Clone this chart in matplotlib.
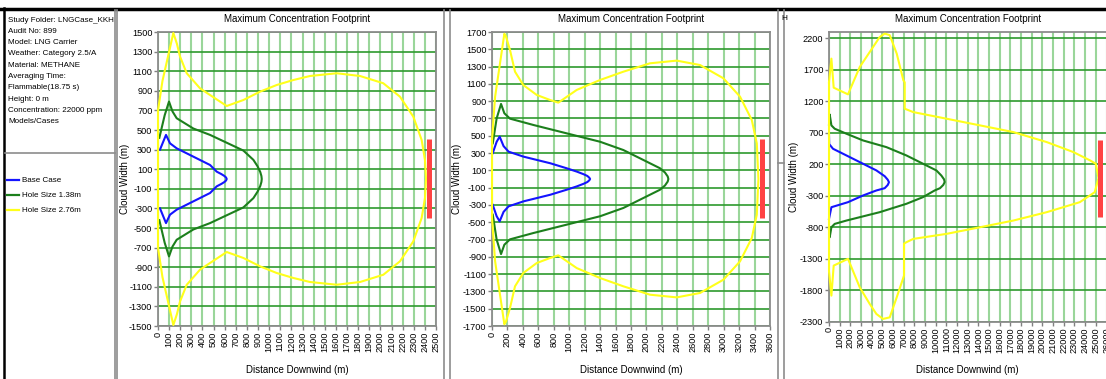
import numpy as np
import matplotlib
matplotlib.use('Agg')
import matplotlib.pyplot as plt
from matplotlib.lines import Line2D

plt.rcParams['font.family'] = ['Liberation Sans Narrow', 'Liberation Sans', 'DejaVu Sans']

W, H = 1106, 379

# --- dados lidos do relatório ---
# casos 1 e 2: metade superior da nuvem (a inferior é o espelho)
# caso 1 : alcance até 2500 m
p1_base_x = [18, 72, 108, 168, 318, 468, 528, 570, 598, 612, 618]
p1_base_y = [300, 450, 364, 313, 228, 143, 75, 50, 30, 15, 0]
p1_h138_x = [12, 60, 99, 130, 168, 318, 468, 618, 768, 858, 895, 920, 930, 933]
p1_h138_y = [420, 650, 790, 690, 620, 515, 450, 370, 290, 195, 130, 70, 30, 0]
p1_h276_x = [0, 40, 138, 170, 198, 258, 378, 468, 618, 768, 917, 1067, 1217, 1367,
             1607, 1817, 2026, 2176, 2296, 2371, 2401, 2410]
p1_h276_y = [700, 1000, 1490, 1380, 1250, 1080, 925, 857, 745, 806, 891, 959, 1010, 1051,
             1079, 1051, 977, 840, 636, 398, 194, 0]

# caso 2 : alcance até 3600 m
p2_base_x = [10, 60, 99, 150, 215, 410, 755, 967, 1100, 1187, 1235, 1260, 1270]
p2_base_y = [300, 430, 490, 380, 316, 258, 182, 124, 85, 55, 35, 15, 0]
p2_h138_x = [10, 60, 117, 160, 233, 535, 967, 1399, 1701, 1960, 2176, 2240, 2275, 2284]
p2_h138_y = [413, 700, 868, 760, 698, 625, 528, 431, 335, 220, 124, 75, 30, 0]
p2_h276_x = [0, 40, 160, 180, 233, 298, 405, 579, 751, 859, 1097, 1399, 1701, 2046,
             2392, 2694, 2996, 3212, 3364, 3429, 3450]
p2_h276_y = [450, 950, 1680, 1650, 1492, 1241, 1087, 972, 914, 883, 1030, 1145, 1241, 1338,
             1369, 1318, 1165, 952, 683, 413, 0]

# caso 3 : alcance até 26000 m (nuvem não simétrica: bordas de cima e de baixo)
p3_base_x = [0, 20, 375, 1630, 3190, 4440, 5220, 5500, 5620]
p3_base_y = [660, 520, 446, 340, 208, 102, 10, -45, -85]
p3_base_xi = [0, 225, 1780, 3190, 4440, 5220, 5500, 5620]
p3_base_yi = [-666, -482, -402, -296, -216, -180, -130, -85]
p3_h138_x = [0, 65, 150, 225, 534, 1630, 3190, 5380, 7250, 8810, 10060, 10530, 10780, 10840]
p3_h138_y = [830, 990, 900, 817, 764, 685, 578, 472, 340, 208, 102, 20, -40, -83]
p3_h138_xi = [0, 65, 225, 534, 1630, 4750, 7250, 8810, 9900, 10400, 10700, 10840]
p3_h138_yi = [-840, -959, -800, -747, -694, -561, -428, -322, -216, -180, -130, -83]
p3_h276_x = [0, 225, 440, 1780, 2880, 3815, 4750, 5220, 5690, 6345, 6970, 7095, 7095,
             7900, 11020, 14150, 17270, 20400, 22900, 24460, 25000, 25250]
p3_h276_y = [1500, 1877, 1416, 1310, 1744, 1982, 2220, 2275, 2250, 1957, 1532, 1500, 1082,
             1028, 923, 817, 711, 552, 393, 261, 208, -20]
p3_h276_xi = [0, 225, 440, 1780, 2880, 3815, 4440, 5060, 5690, 6345, 7030, 7030,
              7250, 7900, 11020, 14150, 17270, 20400, 23500, 24900, 25250]
p3_h276_yi = [-1500, -1886, -1409, -1302, -1754, -2018, -2177, -2256, -2231, -1913, -1568, -1060,
              -1038, -985, -905, -800, -694, -561, -402, -243, -20]

# barra vermelha (fonte) : posição, limite inferior, limite superior
bar_x = [2440, 3500, 25400]
bar_lo = [-400, -455, -640]
bar_hi = [410, 465, 590]

xlims = [(0, 2500), (0, 3600), (0, 26000)]
ylims = [(-1500, 1500), (-1700, 1700), (-2300, 2300)]
xticks = [np.arange(0, 2501, 100), np.arange(0, 3601, 200), np.arange(0, 26001, 1000)]
yticks = [np.arange(-1500, 1501, 200), np.arange(-1700, 1701, 200), np.arange(-2300, 2201, 500)]

cases = ['Base Case', 'Hole Size 1.38m', 'Hole Size 2.76m']
cores = ['#1414ff', '#1c7f1c', '#ffff1a']

info = ['Study Folder: LNGCase_KKH', 'Audit No: 899', 'Model: LNG Carrier',
        'Weather: Category 2.5/A', 'Material: METHANE', 'Averaging Time:',
        'Flammable(18.75 s)', 'Height: 0 m', 'Concentration: 22000 ppm', 'Models/Cases']


def espelho(xs, ys):
    return xs, [-v for v in ys]


paineis = [
    [(p1_base_x, p1_base_y, *espelho(p1_base_x, p1_base_y)),
     (p1_h138_x, p1_h138_y, *espelho(p1_h138_x, p1_h138_y)),
     (p1_h276_x, p1_h276_y, *espelho(p1_h276_x, p1_h276_y))],
    [(p2_base_x, p2_base_y, *espelho(p2_base_x, p2_base_y)),
     (p2_h138_x, p2_h138_y, *espelho(p2_h138_x, p2_h138_y)),
     (p2_h276_x, p2_h276_y, *espelho(p2_h276_x, p2_h276_y))],
    [(p3_base_x, p3_base_y, p3_base_xi, p3_base_yi),
     (p3_h138_x, p3_h138_y, p3_h138_xi, p3_h138_yi),
     (p3_h276_x, p3_h276_y, p3_h276_xi, p3_h276_yi)],
]

# caixas dos eixos em pixels: esquerda, topo, direita, base
caixas = [(158, 32, 436, 326), (492, 32, 770, 326), (829, 32, 1106.5, 321.7)]
# borda direita do rótulo "Cloud Width (m)" em pixels
ylab_px = [130, 462, 799]


def fx(x):
    return x / W


def fy(y):
    return 1 - y / H


def linha(fig, xs, ys, cor='#8c8c8c', lw=1.2):
    fig.add_artist(Line2D([fx(v) for v in xs], [fy(v) for v in ys], color=cor, lw=lw))


def contorno(xs, ys, xi, yi, fecha):
    # borda de cima até a ponta, depois volta pela borda de baixo
    x = list(xs) + list(xi[-2::-1])
    y = list(ys) + list(yi[-2::-1])
    if fecha:
        x.append(xs[0])
        y.append(ys[0])
    return x, y


fig = plt.figure(figsize=(W / 100, H / 100), dpi=100)

# molduras das janelas
linha(fig, [0, W], [8.5, 8.5], cor='black', lw=2.5)
linha(fig, [4, 4], [8, H], cor='black', lw=1.8)
for xb in [115, 117, 444, 450, 778, 784]:
    linha(fig, [xb, xb], [10, H])
linha(fig, [5, 115], [153, 153])
linha(fig, [778, 784], [163, 163])
fig.text(fx(781), fy(19), 'H', fontsize=6, ha='left', va='center')

# painel de informações
for i, t in enumerate(info):
    fig.text(fx(8), fy(20 + i * 11.3), t, fontsize=5.8, ha='left', va='center')
for i, (c, cor) in enumerate(zip(cases, cores)):
    yy = 180 + i * 15
    linha(fig, [7, 19], [yy, yy], cor=cor, lw=1.6)
    fig.text(fx(22), fy(yy), c, fontsize=5.8, ha='left', va='center')

for k in range(3):
    l, t, r, b = caixas[k]
    ax = fig.add_axes([fx(l), fy(b), (r - l) / W, (b - t) / H])
    ax.set_xlim(*xlims[k])
    ax.set_ylim(*ylims[k])
    ax.set_xticks(xticks[k])
    ax.set_yticks(yticks[k])
    ax.set_xticklabels([str(v) for v in xticks[k]], rotation=90, fontsize=6.6)
    ax.set_yticklabels([str(v) for v in yticks[k]], fontsize=6.6)
    ax.tick_params(length=3, width=1, color='#808080', pad=1)

    ax.grid(axis='x', color='#9ad69a', lw=1.5, zorder=0)
    ax.grid(axis='y', color='#2e992e', lw=1.2, zorder=0)
    ax.set_axisbelow(True)
    for s in ax.spines.values():
        s.set_color('#8c8c8c')
        s.set_linewidth(1.3)

    for j, (xs, ys, xi, yi) in enumerate(paineis[k]):
        cx, cy = contorno(xs, ys, xi, yi, fecha=(j == 2))
        ax.plot(cx, cy, color=cores[j], lw=1.5, zorder=3, clip_on=False)

    ax.vlines(bar_x[k], bar_lo[k], bar_hi[k], color='#ff4343', lw=3.6, zorder=4)

    alt = b - t
    ax.text(0.5, (b - 19) / alt, 'Maximum Concentration Footprint', transform=ax.transAxes,
            ha='center', va='center', fontsize=7)
    ax.set_xlabel('Distance Downwind (m)', fontsize=7)
    ax.xaxis.set_label_coords(0.5, (b - 365) / alt)
    ax.set_ylabel('Cloud Width (m)', fontsize=7)
    ax.yaxis.set_label_coords((ylab_px[k] - l) / (r - l), 0.5)

fig.savefig('out.png', dpi=100)
